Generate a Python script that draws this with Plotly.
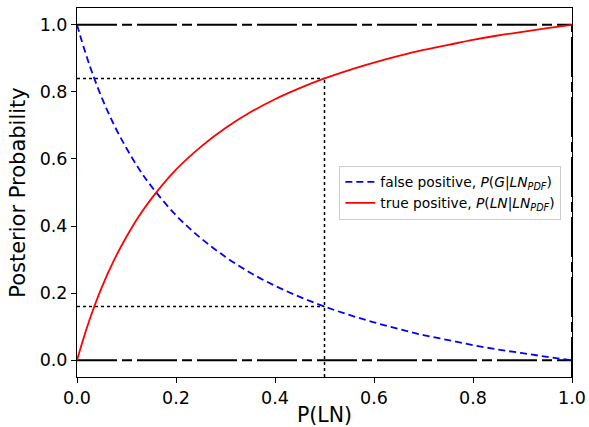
import plotly.graph_objects as go

x_vals = [0.0, 0.01, 0.02, 0.03, 0.05, 0.075, 0.1, 0.125, 0.15, 0.2, 0.25, 0.3, 0.35, 0.4, 0.45,
          0.5, 0.55, 0.6, 0.65, 0.7, 0.75, 0.8, 0.85, 0.9, 0.95, 1.0]
true_pos = [0.0, 0.050, 0.097, 0.140, 0.217, 0.299, 0.368, 0.429, 0.481, 0.568, 0.636, 0.692, 0.739,
            0.778, 0.811, 0.840, 0.865, 0.887, 0.907, 0.925, 0.940, 0.955, 0.968, 0.979, 0.990, 1.0]
false_pos = [1.0, 0.950, 0.903, 0.860, 0.783, 0.701, 0.632, 0.571, 0.519, 0.432, 0.364, 0.308, 0.261,
             0.222, 0.189, 0.160, 0.135, 0.113, 0.093, 0.075, 0.060, 0.045, 0.032, 0.021, 0.010, 0.0]
x_mark = 0.5
tp_mark = 0.84
fp_mark = 0.16
y_min = -0.05
tick_vals = [0.0, 0.2, 0.4, 0.6, 0.8, 1.0]
tick_text = ["0.0", "0.2", "0.4", "0.6", "0.8", "1.0"]

fig = go.Figure()
dashdot = "40px,5px,10px,5px"
# reference lines
fig.add_trace(go.Scatter(x=[0, 1], y=[1, 1], mode="lines", line=dict(color="black", width=2, dash=dashdot), showlegend=False))
fig.add_trace(go.Scatter(x=[0, 1], y=[0, 0], mode="lines", line=dict(color="black", width=2, dash=dashdot), showlegend=False))
fig.add_trace(go.Scatter(x=[1, 1], y=[y_min, 1], mode="lines", line=dict(color="black", width=2, dash=dashdot), showlegend=False))
# dotted markers
fig.add_trace(go.Scatter(x=[0, x_mark], y=[tp_mark, tp_mark], mode="lines", line=dict(color="black", width=1.5, dash="dot"), showlegend=False))
fig.add_trace(go.Scatter(x=[0, x_mark], y=[fp_mark, fp_mark], mode="lines", line=dict(color="black", width=1.5, dash="dot"), showlegend=False))
fig.add_trace(go.Scatter(x=[x_mark, x_mark], y=[y_min, tp_mark], mode="lines", line=dict(color="black", width=1.5, dash="dot"), showlegend=False))

fig.add_trace(go.Scatter(x=x_vals, y=false_pos, mode="lines", line=dict(color="blue", width=1.8, dash="7px,4px", shape="spline"),
                         name="false positive, <i>P</i>(<i>G</i>|<i>LN<sub>PDF</sub></i>)"))
fig.add_trace(go.Scatter(x=x_vals, y=true_pos, mode="lines", line=dict(color="red", width=1.8, shape="spline"),
                         name="true positive, <i>P</i>(<i>LN</i>|<i>LN<sub>PDF</sub></i>)"))

axis_common = dict(showgrid=False, zeroline=False, showline=True, linecolor="black", linewidth=1,
                   mirror=True, ticks="outside", ticklen=5, tickcolor="black", automargin=False,
                   tickfont=dict(family="DejaVu Sans", size=17.5, color="black"))
fig.update_layout(
    width=589, height=427,
    margin=dict(l=77, r=17, t=8, b=50),
    plot_bgcolor="white", paper_bgcolor="white",
    xaxis=dict(range=[0, 1], tickvals=tick_vals, ticktext=tick_text,
               title=dict(text="P(LN)", font=dict(family="DejaVu Sans", size=20.5, color="black"), standoff=15),
               **axis_common),
    yaxis=dict(range=[y_min, 1.05], tickvals=tick_vals, ticktext=tick_text,
               title=dict(text="Posterior Probability", font=dict(family="DejaVu Sans", size=21, color="black"), standoff=8),
               **axis_common),
    legend=dict(x=0.53, y=0.5, xanchor="left", yanchor="middle", bgcolor="rgba(255,255,255,0.8)",
                bordercolor="#cccccc", borderwidth=1, font=dict(family="DejaVu Sans", size=13.8, color="black"),
                traceorder="normal"),
)
fig.write_html("out.html", config={"displayModeBar": False},
               post_script="document.body.style.margin='0px';")
